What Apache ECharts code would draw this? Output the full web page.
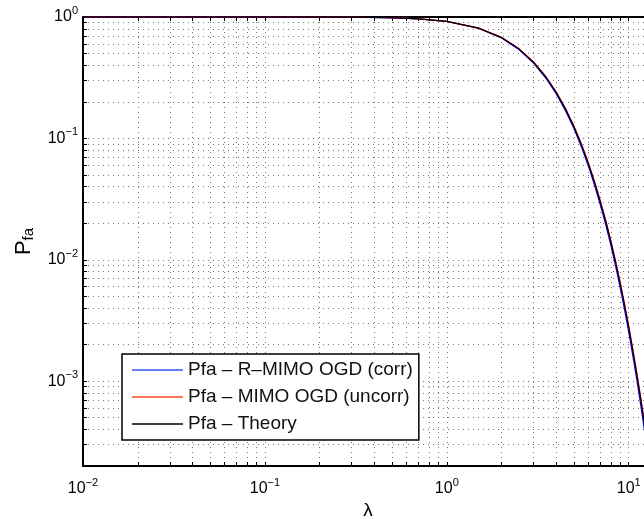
<!DOCTYPE html>
<html>
<head>
<meta charset="utf-8">
<script src="https://cdn.jsdelivr.net/npm/echarts@6/dist/echarts.min.js"></script>
<style>
html,body{margin:0;padding:0;background:#fff;overflow:hidden;width:644px;height:519px;}
#chart{width:680px;height:519px;}
</style>
</head>
<body>
<div id="chart"></div>
<script>
// lambda sample points
var lambda = [0.01,0.02,0.05,0.1,0.2,0.3,0.5,0.7,1,1.5,2,2.5,3,3.5,4,4.5,5,5.5,6,6.5,7,7.5,8,8.5,9,9.5,10,10.5,11,11.5,12,12.5,13];
// Pfa - R-MIMO OGD (corr)
var pfaCorr = [1.000,1.000,1.000,0.9998,0.9989,0.9963,0.9853,0.9650,0.9179,0.8051,0.6713,0.5374,0.4165,0.3144,0.2322,0.1685,0.1205,0.0850,0.0593,0.0409,0.0280,0.0191,0.01294,0.00866,0.00578,0.00384,0.00254,0.00167,0.00110,0.000720,0.000469,0.000305,0.000198];
// Pfa - MIMO OGD (uncorr)
var pfaUncorr = [1.000,1.000,1.000,0.9998,0.9989,0.9964,0.9857,0.9661,0.9204,0.8104,0.6789,0.5464,0.4259,0.3235,0.2404,0.1756,0.1264,0.0898,0.0631,0.0438,0.0302,0.0208,0.01414,0.00953,0.00641,0.00429,0.00286,0.00189,0.00125,0.000828,0.000543,0.000357,0.000233];
// Pfa - Theory
var pfaTheory = [1.000,1.000,1.000,0.9998,0.9989,0.9964,0.9856,0.9659,0.9197,0.8089,0.6767,0.5438,0.4232,0.3209,0.2381,0.1736,0.1247,0.0884,0.0620,0.0430,0.0296,0.0203,0.0138,0.00928,0.00623,0.00416,0.00277,0.00183,0.00121,0.000797,0.000522,0.000342,0.000223];

var seriesNames = ['Pfa – R–MIMO OGD (corr)','Pfa – MIMO OGD (uncorr)','Pfa – Theory'];

// tick / grid positions
var xTicks = [0.01,0.02,0.03,0.04,0.05,0.06,0.07,0.08,0.09,0.1,0.2,0.3,0.4,0.5,0.6,0.7,0.8,0.9,1,2,3,4,5,6,7,8,9,10];
var xLabels = [0.01,0.1,1,10];
var yTicks = [0.0002,0.0003,0.0004,0.0005,0.0006,0.0007,0.0008,0.0009,0.001,0.002,0.003,0.004,0.005,0.006,0.007,0.008,0.009,0.01,0.02,0.03,0.04,0.05,0.06,0.07,0.08,0.09,0.1,0.2,0.3,0.4,0.5,0.6,0.7,0.8,0.9,1];
var yLabels = [0.001,0.01,0.1,1];

var FONT = '"Liberation Sans", Arial, Helvetica, sans-serif';

function pow10Label(v){
  var e = Math.round(Math.log10(v));
  var s = (e < 0 ? '\u2212' : '') + Math.abs(e);
  return '{b|10}{s|' + s + '}';
}
var labelRich = {
  b: {fontSize: 16, fontFamily: FONT, color: '#000'},
  s: {fontSize: 11, fontFamily: FONT, color: '#000', padding: [0,0,12,0]}
};

function pairs(ys){ return lambda.map(function(l,i){ return [l, ys[i]]; }); }

var chart = echarts.init(document.getElementById('chart'), null, {renderer:'canvas'});
var gridLine = {show: true, lineStyle: {color: '#777', width: 1, type: [1,4]}};

var option = {
  animation: false,
  backgroundColor: '#fff',
  grid: {left: 83, top: 17, right: 27, bottom: 53, containLabel: false, outerBoundsMode: 'none'},
  legend: {
    orient: 'vertical',
    left: 122, top: 354,
    data: seriesNames.map(function(n){ return {name: n, icon: 'rect'}; }),
    backgroundColor: '#fff',
    borderColor: '#000', borderWidth: 1.5,
    padding: [5, 6, 5, 10],
    itemWidth: 51, itemHeight: 1.5, itemGap: 5,
    textStyle: {fontSize: 19, fontFamily: FONT, color: '#111', lineHeight: 22}
  },
  xAxis: [{
    type: 'log', logBase: 10, min: 0.01, max: 13.6,
    name: 'λ', nameLocation: 'middle', nameGap: 33,
    nameTextStyle: {fontSize: 19, fontFamily: FONT, color: '#000'},
    axisLine: {show: true, lineStyle: {color: '#000', width: 2}},
    axisTick: {show: true, inside: true, length: 4, customValues: xTicks, lineStyle: {color: '#000', width: 1}},
    axisLabel: {show: true, customValues: xLabels, margin: 11, formatter: pow10Label, rich: labelRich},
    splitLine: gridLine,
    minorTick: {show: false}, minorSplitLine: {show: false}
  },{
    type: 'log', logBase: 10, min: 0.01, max: 13.6, position: 'top',
    axisLine: {show: true, lineStyle: {color: '#000', width: 2}},
    axisTick: {show: true, inside: true, length: 4, customValues: xTicks, lineStyle: {color: '#000', width: 1}},
    axisLabel: {show: false},
    splitLine: {show: false}
  }],
  yAxis: [{
    type: 'log', logBase: 10, min: 0.0002, max: 1,
    name: '{p|P}{s|fa}', nameLocation: 'middle', nameGap: 46, nameRotate: 90,
    nameTextStyle: {rich: {
      p: {fontSize: 22, fontFamily: FONT, color: '#000'},
      s: {fontSize: 15, fontFamily: FONT, color: '#000', padding: [10,0,0,0]}
    }},
    axisLine: {show: true, lineStyle: {color: '#000', width: 2}},
    axisTick: {show: true, inside: true, length: 4, customValues: yTicks, lineStyle: {color: '#000', width: 1}},
    axisLabel: {show: true, customValues: yLabels, margin: 5, formatter: pow10Label, rich: labelRich},
    splitLine: gridLine,
    minorTick: {show: false}, minorSplitLine: {show: false}
  },{
    type: 'log', logBase: 10, min: 0.0002, max: 1, position: 'right',
    axisLine: {show: true, lineStyle: {color: '#000', width: 2}},
    axisTick: {show: true, inside: true, length: 4, customValues: yTicks, lineStyle: {color: '#000', width: 1}},
    axisLabel: {show: false},
    splitLine: {show: false}
  }],
  series: [
    {name: seriesNames[0], type: 'line', data: pairs(pfaCorr), symbol: 'none', lineStyle: {color: '#0000ff', width: 1.2}, itemStyle: {color: '#3355ff'}, z: 3},
    {name: seriesNames[1], type: 'line', data: pairs(pfaUncorr), symbol: 'none', lineStyle: {color: '#ff0000', width: 1.2}, itemStyle: {color: '#ff4422'}, z: 4},
    {name: seriesNames[2], type: 'line', data: pairs(pfaTheory), symbol: 'none', lineStyle: {color: '#000000', width: 1.2}, itemStyle: {color: '#000000'}, z: 5}
  ]
};
chart.setOption(option);
</script>
</body>
</html>
